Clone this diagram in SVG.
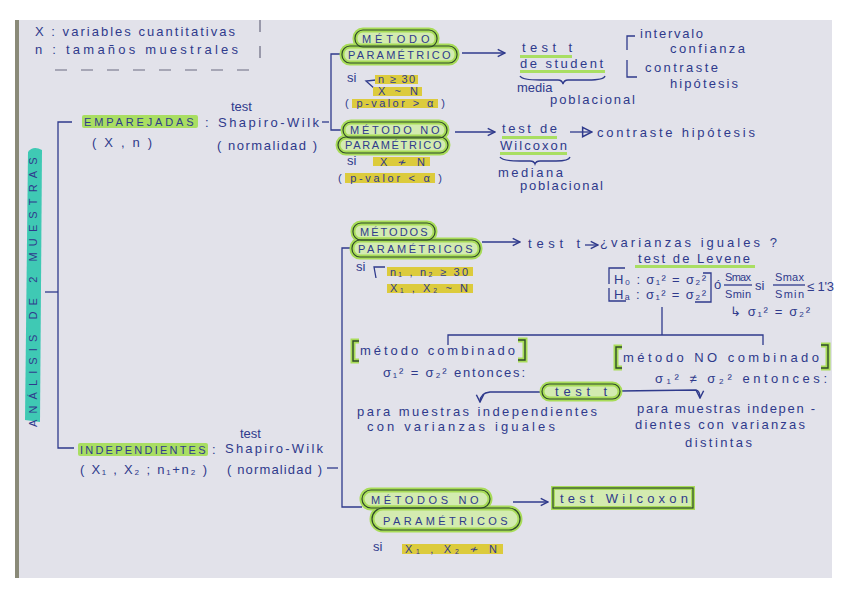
<svg xmlns="http://www.w3.org/2000/svg" width="848" height="599" viewBox="0 0 848 599">
<defs>
<style>
.t{font-family:"Liberation Sans","DejaVu Sans",sans-serif;font-size:13px;fill:#2f3a8c}
.c{font-size:11px;letter-spacing:0.5px}
.s{font-size:11px}
.ln{stroke:#2f3a8c;stroke-width:1.3;fill:none}
.dash{stroke:#6a6a80;stroke-width:1.2;fill:none;stroke-dasharray:12 14}
.hg{fill:#a9de62}
.hy{fill:#dccb3c}
.glow{fill:#d3ebb0;stroke:#a8dc58;stroke-width:5}
.bub{fill:none;stroke:#2f4a2a;stroke-width:1.2}
.gb{stroke:#a8dc58;stroke-width:5;fill:none}
.db{stroke:#2f4a2a;stroke-width:1.4;fill:none}
</style>
<marker id="ah" viewBox="0 0 10 10" refX="9" refY="5" markerWidth="7" markerHeight="7" orient="auto-start-reverse">
<path d="M1,1 L9,5 L1,9" fill="none" stroke="#2f3a8c" stroke-width="1.6"/>
</marker>
<marker id="tri" viewBox="0 0 10 10" refX="9" refY="5" markerWidth="9" markerHeight="9" orient="auto">
<path d="M1,1 L9,5 L1,9 Z" fill="none" stroke="#2f3a8c" stroke-width="1.3"/>
</marker>
</defs>
<rect x="0" y="0" width="848" height="599" fill="#ffffff"/>
<rect x="15" y="20" width="817" height="558" fill="#e2e2ea"/>
<rect x="15" y="20" width="4" height="558" fill="#8a8a78"/>

<g id="legend">
<text class="t" x="35" y="36" textLength="200">X : variables cuantitativas</text>
<text class="t" x="35" y="54" textLength="203">n : tamaños muestrales</text>
<line class="dash" x1="55" y1="70" x2="250" y2="70"/>
<line class="dash" x1="260" y1="20" x2="260" y2="62" stroke-dasharray="6 10"/>
</g>

<g id="title">
<path d="M25,420 L28,152 Q33,145 42,150 L40,422 Z" fill="#3fc9b4"/>
<text class="t c" transform="translate(37,427) rotate(-90)" textLength="270" font-size="12">ANÁLISIS DE 2 MUESTRAS</text>
</g>

<g id="connectors">
<path class="ln" d="M72,122 L58,122 L58,448 L74,448"/>
<line class="ln" x1="45" y1="292" x2="58" y2="292"/>
<line class="ln" x1="322" y1="122" x2="329" y2="122"/>
<path class="ln" d="M342,54 L331,54 L331,130 L344,130"/>
<path class="ln" d="M462,53 L505,53" marker-end="url(#ah)"/>
<path class="ln" d="M455,132 L495,132" marker-end="url(#ah)"/>
<path class="ln" d="M570,132 L592,132" marker-end="url(#tri)"/>
<path class="ln" d="M635,36 L627,36 L627,50"/>
<path class="ln" d="M627,60 L627,77 L637,77"/>
<path class="ln" d="M520,76 Q522,80 540,80 L558,80 Q562,80 563,84 Q564,80 568,80 L588,80 Q604,80 605,76"/>
<path class="ln" d="M500,157 Q502,161 520,161 L530,161 Q534,161 535,164 Q536,161 540,161 L556,161 Q569,161 570,157"/>
<path class="ln" d="M375,89 L366,81 L376,80"/>
<line class="ln" x1="327" y1="468" x2="338" y2="468"/>
<path class="ln" d="M352,248 L342,248 L342,507 L362,507"/>
<path class="ln" d="M482,242 L520,242" marker-end="url(#ah)"/>
<path class="ln" d="M585,245 L598,245" marker-end="url(#ah)"/>
<path class="ln" d="M385,267 L374,267 L376,278"/>
<path class="ln" d="M513,502 L548,502" marker-end="url(#ah)"/>
<path class="ln" d="M662,307 L662,335"/>
<path class="ln" d="M448,345 L448,335 L763,335 L763,345"/>
<path class="ln" d="M542,392 L490,392 Q480,393 480,402" marker-end="url(#ah)"/>
<path class="ln" d="M620,391 L696,390 Q700,391 700,398" marker-end="url(#ah)"/>
<path class="ln" d="M625,268 L609,268 L609,284"/>
<path class="ln" d="M609,288 L609,301 L626,301"/>
<path class="ln" d="M703,273 L711,273 L711,302 L695,302"/>
<line class="ln" x1="724" y1="285" x2="752" y2="285"/>
<line class="ln" x1="773" y1="285" x2="805" y2="285"/>
</g>

<g id="emparejadas">
<rect class="hg" x="82" y="115" width="116" height="13" rx="2"/>
<text class="t c" x="84" y="126" textLength="110">EMPAREJADAS</text>
<text class="t" x="205" y="127" font-size="16">:</text>
<text class="t" x="231" y="111">test</text>
<text class="t" x="218" y="127" textLength="101">Shapiro-Wilk</text>
<text class="t" x="92" y="147" textLength="60">( X , n )</text>
<text class="t" x="217" y="150" textLength="100">( normalidad )</text>
</g>

<g id="metodo-parametrico">
<rect class="glow" x="355" y="30" width="82" height="17" rx="8"/>
<rect class="glow" x="342" y="46" width="115" height="17" rx="8"/>
<rect class="bub" x="355" y="30" width="82" height="17" rx="8"/>
<rect class="bub" x="342" y="46" width="115" height="17" rx="8"/>
<text class="t c" x="362" y="43" textLength="68">MÉTODO</text>
<text class="t c" x="348" y="59" textLength="103">PARAMÉTRICO</text>
<text class="t" x="347" y="82">si</text>
<rect class="hy" x="375" y="75" width="43" height="9"/>
<rect class="hy" x="373" y="87" width="49" height="9"/>
<rect class="hy" x="352" y="99" width="86" height="9"/>
<text class="t s" x="378" y="83" textLength="37">n ≥ 30</text>
<text class="t s" x="378" y="95" textLength="40">X ~ N</text>
<text class="t s" x="345" y="107" textLength="100">( p-valor &gt; α )</text>
</g>

<g id="test-t-student">
<rect class="hg" x="520" y="55" width="52" height="3"/>
<rect class="hg" x="520" y="70" width="85" height="3"/>
<text class="t" x="522" y="52" textLength="50">test t</text>
<text class="t" x="520" y="68" textLength="83">de student</text>
<text class="t" x="517" y="92">media</text>
<text class="t" x="550" y="104" textLength="85">poblacional</text>
</g>

<g id="usos-t">
<text class="t" x="640" y="38" textLength="63">intervalo</text>
<text class="t" x="670" y="53" textLength="75">confianza</text>
<text class="t" x="645" y="72" textLength="73">contraste</text>
<text class="t" x="670" y="88" textLength="68">hipótesis</text>
</g>

<g id="metodo-no-parametrico">
<rect class="glow" x="343" y="122" width="104" height="16" rx="8"/>
<rect class="glow" x="338" y="137" width="110" height="16" rx="8"/>
<rect class="bub" x="343" y="122" width="104" height="16" rx="8"/>
<rect class="bub" x="338" y="137" width="110" height="16" rx="8"/>
<text class="t c" x="350" y="134" textLength="90">MÉTODO NO</text>
<text class="t c" x="345" y="149" textLength="97">PARAMÉTRICO</text>
<text class="t" x="347" y="165">si</text>
<rect class="hy" x="373" y="157" width="57" height="9"/>
<text class="t s" x="380" y="166" textLength="45">X ≁ N</text>
<rect class="hy" x="345" y="173" width="90" height="10"/>
<text class="t s" x="338" y="182" textLength="104">( p-valor &lt; α )</text>
</g>

<g id="test-wilcoxon-1">
<rect class="hg" x="502" y="136" width="55" height="3"/>
<rect class="hg" x="500" y="152" width="67" height="3"/>
<text class="t" x="502" y="133" textLength="55" font-size="12">test de</text>
<text class="t" x="500" y="150" textLength="67" font-size="12">Wilcoxon</text>
<text class="t" x="498" y="177" textLength="65">mediana</text>
<text class="t" x="520" y="190" textLength="83">poblacional</text>
<text class="t" x="597" y="137" textLength="158">contraste hipótesis</text>
</g>

<g id="independientes">
<rect class="hg" x="78" y="443" width="130" height="13" rx="2"/>
<text class="t c" x="80" y="454" textLength="126">INDEPENDIENTES</text>
<text class="t" x="212" y="454" font-size="16">:</text>
<text class="t" x="240" y="438">test</text>
<text class="t" x="225" y="453" textLength="98">Shapiro-Wilk</text>
<text class="t" x="80" y="474" textLength="127">( X₁ , X₂ ; n₁+n₂ )</text>
<text class="t" x="227" y="474" textLength="95">( normalidad )</text>
</g>

<g id="metodos-parametricos">
<rect class="glow" x="353" y="223" width="82" height="17" rx="8"/>
<rect class="glow" x="352" y="240" width="128" height="17" rx="8"/>
<rect class="bub" x="353" y="223" width="82" height="17" rx="8"/>
<rect class="bub" x="352" y="240" width="128" height="17" rx="8"/>
<text class="t c" x="360" y="236" textLength="68">MÉTODOS</text>
<text class="t c" x="358" y="253" textLength="115">PARAMÉTRICOS</text>
<text class="t" x="356" y="271">si</text>
<rect class="hy" x="387" y="267" width="86" height="9"/>
<rect class="hy" x="387" y="284" width="86" height="9"/>
<text class="t s" x="390" y="276" textLength="78">n₁ , n₂ ≥ 30</text>
<text class="t s" x="390" y="292" textLength="78">X₁ , X₂ ~ N</text>
</g>

<g id="test-t-varianzas">
<text class="t" x="528" y="248" textLength="52">test t</text>
<text class="t" x="600" y="247" textLength="177">¿varianzas iguales ?</text>
<rect class="hg" x="635" y="265" width="120" height="3"/>
<text class="t" x="638" y="263" textLength="112" font-size="12">test de Levene</text>
<text class="t" x="614" y="284" textLength="92">H₀ : σ₁² = σ₂²</text>
<text class="t" x="614" y="299" textLength="92">Hₐ : σ₁² = σ₂²</text>
<text class="t" x="714" y="289">ó</text>
<text class="t s" x="725" y="281" textLength="26">Smax</text>
<text class="t s" x="725" y="298" textLength="26">Smin</text>
<text class="t" x="755" y="290">si</text>
<text class="t s" x="775" y="281" textLength="29">Smax</text>
<text class="t s" x="775" y="298" textLength="29">Smin</text>
<text class="t" x="807" y="291" textLength="27">≤ 1'3</text>
<text class="t" x="730" y="316" textLength="80">↳ σ₁² = σ₂²</text>
</g>

<g id="metodo-combinado">
<path class="gb" d="M359,341 L353,341 L353,361 L359,361"/>
<path class="gb" d="M518,340 L525,340 L525,360 L518,360"/>
<path class="db" d="M359,341 L353,341 L353,361 L359,361"/>
<path class="db" d="M518,340 L525,340 L525,360 L518,360"/>
<text class="t" x="360" y="355" textLength="155">método combinado</text>
<text class="t" x="383" y="377" textLength="142">σ₁² = σ₂² entonces:</text>
</g>

<g id="metodo-no-combinado">
<path class="gb" d="M622,347 L616,347 L616,368 L622,368"/>
<path class="gb" d="M821,345 L828,345 L828,368 L821,368"/>
<path class="db" d="M622,347 L616,347 L616,368 L622,368"/>
<path class="db" d="M821,345 L828,345 L828,368 L821,368"/>
<text class="t" x="623" y="362" textLength="196">método NO combinado</text>
<text class="t" x="655" y="383" textLength="172">σ₁² ≠ σ₂² entonces:</text>
</g>

<g id="test-t-bubble">
<rect class="glow" x="542" y="384" width="78" height="15" rx="7.5"/>
<rect class="bub" x="542" y="384" width="78" height="15" rx="7.5"/>
<text class="t" x="555" y="396" textLength="52">test t</text>
</g>

<g id="iguales">
<text class="t" x="357" y="416" textLength="240">para muestras independientes</text>
<text class="t" x="367" y="431" textLength="188">con varianzas iguales</text>
</g>

<g id="distintas">
<text class="t" x="637" y="413" textLength="178">para muestras indepen -</text>
<text class="t" x="635" y="429" textLength="170">dientes con varianzas</text>
<text class="t" x="685" y="447" textLength="67">distintas</text>
</g>

<g id="metodos-no-parametricos">
<rect class="glow" x="362" y="490" width="128" height="18" rx="9"/>
<rect class="glow" x="372" y="508" width="148" height="22" rx="11"/>
<rect class="bub" x="362" y="490" width="128" height="18" rx="9"/>
<rect class="bub" x="372" y="508" width="148" height="22" rx="11"/>
<text class="t c" x="371" y="504" textLength="108">MÉTODOS NO</text>
<text class="t c" x="383" y="525" textLength="125">PARAMÉTRICOS</text>
<text class="t" x="373" y="551">si</text>
<rect class="hy" x="402" y="544" width="101" height="10"/>
<text class="t s" x="405" y="553" textLength="92">X₁ , X₂ ≁ N</text>
</g>

<g id="test-wilcoxon-2">
<rect x="553" y="488" width="140" height="20" fill="#d3ebb0" stroke="#a8dc58" stroke-width="4"/>
<rect x="553" y="488" width="140" height="20" fill="none" stroke="#2f4a2a" stroke-width="1.2"/>
<text class="t" x="560" y="503" textLength="128">test Wilcoxon</text>
</g>
</svg>
